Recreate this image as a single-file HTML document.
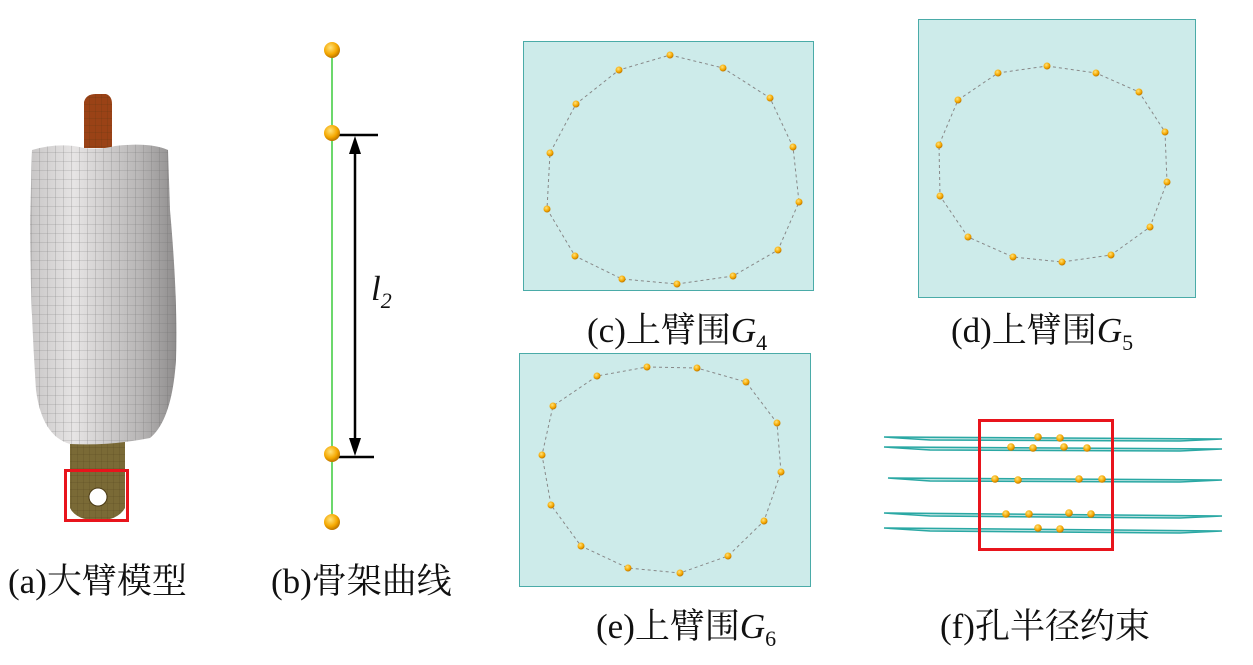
<!DOCTYPE html>
<html><head><meta charset="utf-8"><style>
html,body{margin:0;padding:0;background:#fff;width:1253px;height:665px;overflow:hidden}
svg{display:block}
text{font-family:"Liberation Serif","Noto Serif CJK SC",serif;font-size:35px;fill:#111}
</style></head><body>
<svg width="1253" height="665" viewBox="0 0 1253 665" xmlns="http://www.w3.org/2000/svg">
<defs>
<radialGradient id="ball" cx="0.4" cy="0.35" r="0.7">
<stop offset="0" stop-color="#ffe27a"/><stop offset="0.6" stop-color="#f5a800"/><stop offset="1" stop-color="#b06a00"/></radialGradient>
<linearGradient id="arm" x1="0" x2="1">
<stop offset="0" stop-color="#c8c6c6"/><stop offset="0.3" stop-color="#e6e4e4"/><stop offset="0.75" stop-color="#b8b6b6"/><stop offset="1" stop-color="#8e8c8c"/></linearGradient>
<pattern id="grid" width="8" height="9" patternUnits="userSpaceOnUse"><path d="M8 0V9M0 9H8" stroke="#666" stroke-width="0.6" fill="none"/></pattern>
<pattern id="grid2" width="6" height="7" patternUnits="userSpaceOnUse"><path d="M6 0V7M0 7H6" stroke="#3a2e10" stroke-width="0.5" fill="none" opacity="0.5"/></pattern>
</defs>
<!-- (a) -->
<path d="M84 148 L84 102 Q86 94 96 94 L106 94 Q112 96 112 104 L112 148 Z" fill="#9a4216"/>
<path d="M84 148 L84 102 Q86 94 96 94 L106 94 Q112 96 112 104 L112 148 Z" fill="url(#grid2)"/>
<path d="M70 440 L125 440 L125 508 Q118 520 98 521 Q76 520 70 508 Z" fill="#7a6a36"/>
<path d="M70 440 L125 440 L125 508 Q118 520 98 521 Q76 520 70 508 Z" fill="url(#grid2)"/>
<circle cx="98" cy="497" r="9" fill="#fff" stroke="#4a3a14"/>
<path d="M32 150 Q60 142 84 148 Q100 150 115 146 Q150 142 168 150 L170 210 Q178 300 176 360 Q172 420 150 438 Q110 446 70 444 Q42 436 36 390 Q30 300 30 220 Z" fill="url(#arm)"/>
<path d="M32 150 Q60 142 84 148 Q100 150 115 146 Q150 142 168 150 L170 210 Q178 300 176 360 Q172 420 150 438 Q110 446 70 444 Q42 436 36 390 Q30 300 30 220 Z" fill="url(#grid)" opacity="0.7"/>
<rect x="65.5" y="470.5" width="62" height="50" fill="none" stroke="#e8141c" stroke-width="3"/>
<text x="8" y="593">(a)大臂模型</text>
<!-- (b) -->
<line x1="332" y1="50" x2="332" y2="522" stroke="#3ccc3c" stroke-width="1.5"/>
<line x1="332" y1="135" x2="378" y2="135" stroke="#000" stroke-width="2.5"/>
<line x1="332" y1="457" x2="374" y2="457" stroke="#000" stroke-width="2.5"/>
<line x1="355" y1="142" x2="355" y2="450" stroke="#000" stroke-width="2.5"/>
<polygon points="355,136 349,154 361,154" fill="#000"/>
<polygon points="355,456 349,438 361,438" fill="#000"/>
<g fill="url(#ball)"><circle cx="332" cy="50" r="8"/><circle cx="332" cy="133" r="8"/><circle cx="332" cy="454" r="8"/><circle cx="332" cy="522" r="8"/></g>
<text x="371" y="300" font-style="italic">l<tspan font-size="22" dy="8">2</tspan></text>
<text x="271" y="593">(b)骨架曲线</text>
<!-- (c) -->
<rect x="523.5" y="41.5" width="290" height="249" fill="#cdebea" stroke="#4aaba8"/>
<polygon points="670,55 723,68 770,98 793,147 799,202 778,250 733,276 677,284 622,279 575,256 547,209 550,153 576,104 619,70" fill="none" stroke="#888" stroke-dasharray="3,3" stroke-linejoin="round"/>
<g fill="url(#ball)"><circle cx="670" cy="55" r="3.5"/><circle cx="619" cy="70" r="3.5"/><circle cx="723" cy="68" r="3.5"/><circle cx="576" cy="104" r="3.5"/><circle cx="770" cy="98" r="3.5"/><circle cx="550" cy="153" r="3.5"/><circle cx="793" cy="147" r="3.5"/><circle cx="547" cy="209" r="3.5"/><circle cx="799" cy="202" r="3.5"/><circle cx="575" cy="256" r="3.5"/><circle cx="778" cy="250" r="3.5"/><circle cx="622" cy="279" r="3.5"/><circle cx="677" cy="284" r="3.5"/><circle cx="733" cy="276" r="3.5"/></g>
<text x="587" y="342">(c)上臂围<tspan font-style="italic">G</tspan><tspan font-size="22" dy="8">4</tspan></text>
<!-- (d) -->
<rect x="918.5" y="19.5" width="277" height="278" fill="#cdebea" stroke="#4aaba8"/>
<polygon points="1047,66 1096,73 1139,92 1165,132 1167,182 1150,227 1111,255 1062,262 1013,257 968,237 940,196 939,145 958,100 998,73" fill="none" stroke="#888" stroke-dasharray="3,3"/>
<g fill="url(#ball)"><circle cx="1047" cy="66" r="3.5"/><circle cx="998" cy="73" r="3.5"/><circle cx="1096" cy="73" r="3.5"/><circle cx="958" cy="100" r="3.5"/><circle cx="1139" cy="92" r="3.5"/><circle cx="939" cy="145" r="3.5"/><circle cx="1165" cy="132" r="3.5"/><circle cx="940" cy="196" r="3.5"/><circle cx="1167" cy="182" r="3.5"/><circle cx="968" cy="237" r="3.5"/><circle cx="1150" cy="227" r="3.5"/><circle cx="1013" cy="257" r="3.5"/><circle cx="1062" cy="262" r="3.5"/><circle cx="1111" cy="255" r="3.5"/></g>
<text x="951" y="342">(d)上臂围<tspan font-style="italic">G</tspan><tspan font-size="22" dy="8">5</tspan></text>
<!-- (e) -->
<rect x="519.5" y="353.5" width="291" height="233" fill="#cdebea" stroke="#4aaba8"/>
<polygon points="647,367 697,368 746,382 777,423 781,472 764,521 728,556 680,573 628,568 581,546 551,505 542,455 553,406 597,376" fill="none" stroke="#888" stroke-dasharray="3,3"/>
<g fill="url(#ball)"><circle cx="647" cy="367" r="3.5"/><circle cx="597" cy="376" r="3.5"/><circle cx="697" cy="368" r="3.5"/><circle cx="553" cy="406" r="3.5"/><circle cx="746" cy="382" r="3.5"/><circle cx="542" cy="455" r="3.5"/><circle cx="777" cy="423" r="3.5"/><circle cx="551" cy="505" r="3.5"/><circle cx="781" cy="472" r="3.5"/><circle cx="581" cy="546" r="3.5"/><circle cx="764" cy="521" r="3.5"/><circle cx="628" cy="568" r="3.5"/><circle cx="680" cy="573" r="3.5"/><circle cx="728" cy="556" r="3.5"/></g>
<text x="596" y="638">(e)上臂围<tspan font-style="italic">G</tspan><tspan font-size="22" dy="8">6</tspan></text>
<!-- (f) -->
<g stroke="#2aa8a4" stroke-width="1.5" fill="#bfe3e2">
<path d="M884 437 L1222 439 L1180 441 L930 440 Z"/>
<path d="M884 447 L1222 449 L1180 451 L930 450 Z"/>
<path d="M888 478 L1222 480 L1180 482 L930 481 Z"/>
<path d="M884 513 L1222 516 L1180 518 L930 516 Z"/>
<path d="M884 528 L1222 531 L1180 533 L930 531 Z"/>
</g>
<g fill="url(#ball)"><circle cx="1038" cy="437" r="3.8"/><circle cx="1060" cy="438" r="3.8"/><circle cx="1011" cy="447" r="3.8"/><circle cx="1033" cy="448" r="3.8"/><circle cx="1064" cy="447" r="3.8"/><circle cx="1087" cy="448" r="3.8"/><circle cx="995" cy="479" r="3.8"/><circle cx="1018" cy="480" r="3.8"/><circle cx="1079" cy="479" r="3.8"/><circle cx="1102" cy="479" r="3.8"/><circle cx="1006" cy="514" r="3.8"/><circle cx="1029" cy="514" r="3.8"/><circle cx="1069" cy="513" r="3.8"/><circle cx="1091" cy="514" r="3.8"/><circle cx="1038" cy="528" r="3.8"/><circle cx="1060" cy="529" r="3.8"/></g>
<rect x="979.5" y="420.5" width="133" height="129" fill="none" stroke="#e8141c" stroke-width="3"/>
<text x="940" y="638">(f)孔半径约束</text>
</svg>
</body></html>
